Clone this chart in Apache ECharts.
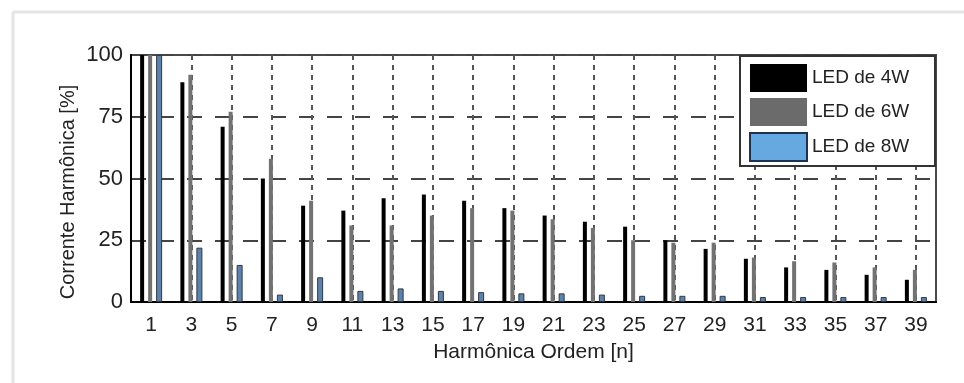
<!DOCTYPE html>
<html>
<head>
<meta charset="utf-8">
<style>
html,body{margin:0;padding:0;background:#fff;}
#chart{width:964px;height:383px;}
</style>
<script src="https://cdn.jsdelivr.net/npm/echarts@6/dist/echarts.min.js"></script>
</head>
<body>
<div id="chart"></div>
<script>
const categories = ['1','3','5','7','9','11','13','15','17','19','21','23','25','27','29','31','33','35','37','39'];
const led4 = [100, 89, 71, 50, 39, 37, 42, 43.5, 41, 38, 35, 32.5, 30.5, 25, 21.5, 17.5, 14, 13, 11, 9];
const led6 = [100, 92, 77, 58, 41, 31, 31, 35, 38, 37, 33.5, 30, 25, 24, 24, 18, 16.5, 16, 14, 13];
const led8 = [100, 22, 15, 3, 10, 4.5, 5.5, 4.5, 4, 3.5, 3.5, 3, 2.5, 2.5, 2.5, 2, 2, 2, 2, 2];
const seriesNames = ['LED de 4W', 'LED de 6W', 'LED de 8W'];
const yTitle = 'Corrente Harmônica [%]';
const xTitle = 'Harmônica Ordem [n]';

const FONT = '"Liberation Sans", Arial, sans-serif';
const chart = echarts.init(document.getElementById('chart'), null, {renderer: 'canvas'});
chart.setOption({
  animation: false,
  backgroundColor: '#fff',
  textStyle: {fontFamily: FONT},
  grid: {left: 131, right: 28, top: 55, bottom: 81, show: true, borderColor: '#4a4a4a', borderWidth: 2, containLabel: false},
  legend: {
    orient: 'vertical', left: 749, top: 64, itemWidth: 57, itemHeight: 28, itemGap: 6,
    textStyle: {fontSize: 19, color: '#222', fontFamily: FONT}, padding: 0, z: 20,
    icon: 'rect',
    data: [
      {name: seriesNames[0], itemStyle: {color: '#000', borderWidth: 0}},
      {name: seriesNames[1], itemStyle: {color: '#6b6b6b', borderWidth: 0}},
      {name: seriesNames[2], itemStyle: {color: '#66a8e0', borderColor: '#1f3350', borderWidth: 2}}
    ]
  },
  graphic: [
    {type: 'line', shape: {x1: 13, y1: 12, x2: 964, y2: 12}, style: {stroke: '#e4e4e4', lineWidth: 3}, silent: true},
    {type: 'line', shape: {x1: 13, y1: 12, x2: 13, y2: 383}, style: {stroke: '#e4e4e4', lineWidth: 3}, silent: true},
    {type: 'rect', shape: {x: 740, y: 56, width: 195, height: 110}, style: {fill: '#fff', stroke: '#333', lineWidth: 2}, z: 15, silent: true},
    {type: 'text', x: 68, y: 192, rotation: Math.PI / 2, style: {text: yTitle, fontSize: 20, fill: '#222', fontFamily: FONT, align: 'center', verticalAlign: 'middle'}, silent: true}
  ],
  xAxis: {
    type: 'category', data: categories, boundaryGap: true,
    axisLine: {show: true, lineStyle: {color: '#000', width: 2}},
    axisTick: {show: false},
    axisLabel: {fontSize: 21, color: '#222', margin: 13, interval: 0, fontFamily: FONT},
    splitLine: {show: true, alignWithLabel: true, lineStyle: {color: '#555', width: 2, type: [5, 5]}},
    name: xTitle, nameLocation: 'middle', nameGap: 40,
    nameTextStyle: {fontSize: 21, color: '#222', fontFamily: FONT}
  },
  yAxis: {
    type: 'value', min: 0, max: 100, interval: 25,
    axisLine: {show: true, lineStyle: {color: '#000', width: 2}},
    axisTick: {show: false},
    axisLabel: {fontSize: 22, color: '#222', margin: 8, fontFamily: FONT},
    splitLine: {show: true, lineStyle: {color: '#444', width: 2, type: [15, 13]}}
  },
  series: [
    {name: seriesNames[0], type: 'bar', data: led4, barWidth: 4, barGap: '100%', itemStyle: {color: '#000'}},
    {name: seriesNames[1], type: 'bar', data: led6, barWidth: 4, barGap: '100%', itemStyle: {color: '#727272'}},
    {name: seriesNames[2], type: 'bar', data: led8, barWidth: 6, barGap: '100%', itemStyle: {color: '#5f83a8', borderColor: '#2b3a4c', borderWidth: 1}}
  ]
});
</script>
</body>
</html>
